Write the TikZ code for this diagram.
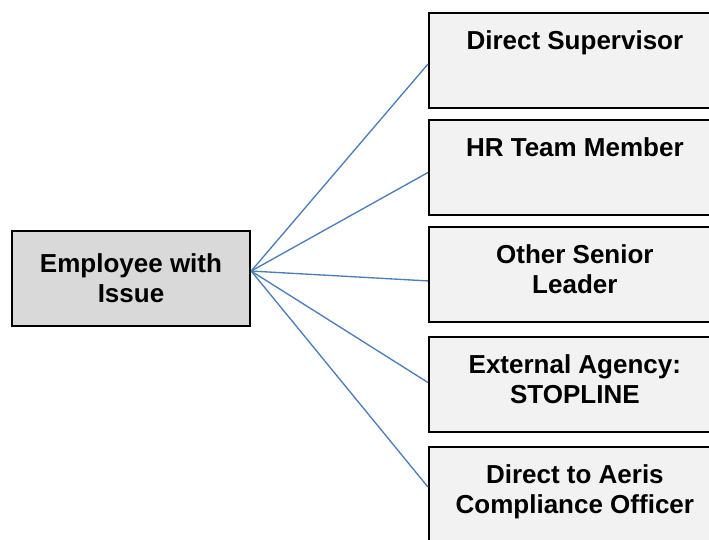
\documentclass[tikz,border=0pt]{standalone}
\usepackage{fontspec}
\setmainfont{Liberation Sans}
\usetikzlibrary{positioning}
\definecolor{linkblue}{HTML}{4A7EBB}
\definecolor{destfill}{HTML}{F2F2F2}
\definecolor{srcfill}{HTML}{D9D9D9}

\begin{document}
\begin{tikzpicture}[
  x=0.75pt, y=-0.75pt,
  font=\bfseries\fontsize{19.5}{23}\selectfont,
  src/.style={draw=black, line width=1.3pt, fill=srcfill, align=center, inner sep=0pt, minimum width=179pt, text height=53.85pt, text depth=17.6pt},
  dest/.style={draw=black, line width=1.3pt, fill=destfill, align=center, inner sep=0pt, minimum width=219pt, text height=27.1pt, text depth=44.4pt},
  dest2/.style={dest, text height=50.1pt, text depth=21.4pt},
  link/.style={draw=linkblue, line width=1pt}
]
\useasboundingbox (0,0) rectangle (709,539);
\node[src] (emp) at (131,278.5) {Employee with\\Issue};
\node[dest, anchor=north west] (sup) at (428,12) {Direct Supervisor};
\node[dest, below=7.45pt of sup] (hr) {HR Team Member};
\node[dest2, below=7.45pt of hr] (senior) {Other Senior\\Leader};
\node[dest2, below=9.7pt of senior] (stopline) {External Agency:\\STOPLINE};
\node[dest2, below=9.7pt of stopline] (officer) {Direct to Aeris\\Compliance Officer};
\coordinate (hub) at ([yshift=5.6pt]emp.east);
\draw[link] (hub) -- ([yshift=-2.6pt]sup.west);
\draw[link] (hub) -- ([yshift=-3.7pt]hr.west);
\draw[link] (hub) -- ([yshift=-4.8pt]senior.west);
\draw[link] (hub) -- ([yshift=1.5pt]stopline.west);
\draw[link] (hub) -- ([yshift=5.6pt]officer.west);
\end{tikzpicture}
\end{document}
